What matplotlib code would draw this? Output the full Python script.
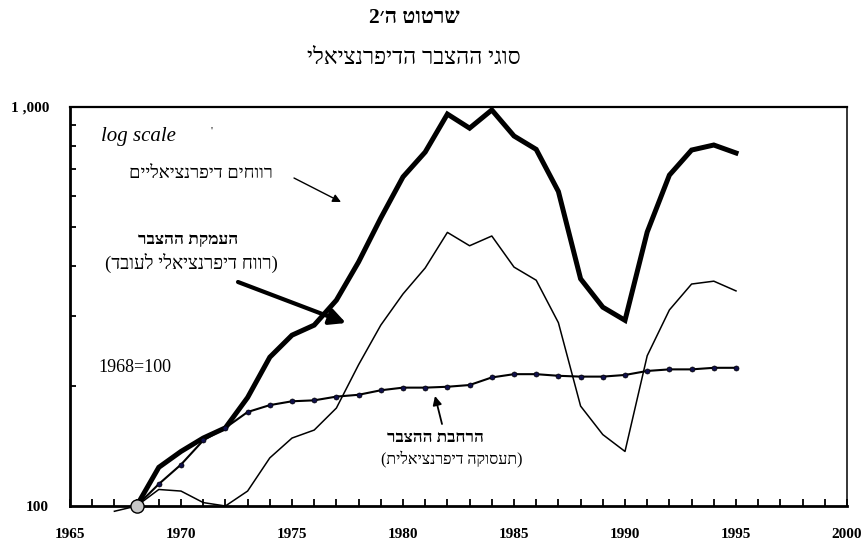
import matplotlib
matplotlib.use('Agg')
import matplotlib.pyplot as plt
from matplotlib.ticker import FixedLocator, NullFormatter, FixedFormatter

# ---------------- data ----------------
years = list(range(1968, 1996))
profits = [100, 125, 137, 148, 157, 187, 236, 268, 284, 328, 409, 527, 668, 771,
           960, 885, 983, 846, 783, 614, 371, 315, 292, 486, 675, 780, 803, 767]

deep_years = list(range(1967, 1996))
deepening = [97, 100, 110, 109, 102, 100, 109, 132, 148, 155, 176, 226, 284, 340,
             395, 485, 449, 475, 397, 368, 288, 178, 151, 137, 238, 310, 360, 366, 346]

expansion = [100, 113.5, 127, 146, 157, 172, 179, 183, 184, 188, 190, 195, 198, 198,
             199, 201, 210, 214, 214, 212, 211, 211, 213, 218, 220, 220, 222, 222]

x_major = [1965, 1970, 1975, 1980, 1985, 1990, 1995, 2000]
x_minor = list(range(1965, 2001))
y_major = [100, 1000]
y_major_labels = ["100", "1 ,000"]
y_minor = [200, 300, 400, 500, 600, 700, 800, 900]

title1 = "שרטוט ה׳2"
title2 = "סוגי ההצבר הדיפרנציאלי"
lbl_profits = "רווחים דיפרנציאליים"
lbl_deep1 = "העמקת ההצבר"
lbl_deep2 = "(רווח דיפרנציאלי לעובד)"
lbl_exp1 = "הרחבת ההצבר"
lbl_exp2 = "(תעסוקה דיפרנציאלית)"
lbl_log = "log scale"
lbl_base = "1968=100"

SERIF = ['Liberation Serif', 'DejaVu Sans']


def vis(s):
    """visual (left-to-right) order for a right-to-left string"""
    mirror = {'(': ')', ')': '('}
    return ''.join(mirror.get(c, c) for c in reversed(s))


# ---------------- layout ----------------
W, H = 863, 541
AX_L, AX_R, AX_T, AX_B = 70, 847, 107, 506

fig = plt.figure(figsize=(W / 100, H / 100), dpi=100)
ax = fig.add_axes([AX_L / W, 1 - AX_B / H, (AX_R - AX_L) / W, (AX_B - AX_T) / H])


def apos(px, py):
    return ((px - AX_L) / (AX_R - AX_L), (AX_B - py) / (AX_B - AX_T))


ax.set_yscale('log')
ax.set_xlim(1965, 2000)
ax.set_ylim(100, 1000)

# series
ax.plot(years, profits, color='black', lw=3.6, solid_joinstyle='miter', zorder=4)
ax.plot(deep_years, deepening, color='black', lw=1.1, zorder=3, clip_on=False)
ax.plot(years, expansion, color='black', lw=1.5, marker='o', ms=3.6,
        mfc='#10104a', mec='black', mew=0.5, zorder=5)
ax.plot(years[0], profits[0], 'o', ms=9.5, mfc='#c8c8c8', mec='black', mew=1,
        zorder=10, clip_on=False)

# axes styling
for side, lw in (('left', 2.0), ('bottom', 2.0), ('top', 1.6), ('right', 1.1)):
    ax.spines[side].set_linewidth(lw)
    ax.spines[side].set_color('black')

ax.xaxis.set_major_locator(FixedLocator(x_major))
ax.xaxis.set_minor_locator(FixedLocator(x_minor))
ax.xaxis.set_major_formatter(FixedFormatter([str(v) for v in x_major]))
ax.xaxis.set_minor_formatter(NullFormatter())
ax.yaxis.set_major_locator(FixedLocator(y_major))
ax.yaxis.set_major_formatter(FixedFormatter(y_major_labels))
ax.yaxis.set_minor_locator(FixedLocator(y_minor))
ax.yaxis.set_minor_formatter(NullFormatter())
ax.xaxis.set_ticks_position('bottom')
ax.yaxis.set_ticks_position('left')
ax.tick_params(axis='x', which='both', direction='in', length=5, width=1.3, pad=15.5)
ax.tick_params(axis='y', which='major', direction='in', length=0, pad=15)
ax.tick_params(axis='y', which='minor', direction='in', length=4, width=1.3)
for lab in ax.get_xticklabels() + ax.get_yticklabels():
    lab.set_family(SERIF)
    lab.set_fontweight('bold')
    lab.set_fontsize(11)

# titles
fig.text(414 / W, 1 - 18 / H, vis(title1), family=SERIF, fontweight='bold',
         fontsize=15.5, ha='center', va='center')
fig.text(414 / W, 1 - 58 / H, vis(title2), family=SERIF, fontsize=16.5,
         ha='center', va='center')

# annotations
def txt(px, py, s, **kw):
    ax.text(*apos(px, py), s, transform=ax.transAxes, family=SERIF,
            ha=kw.pop('ha', 'center'), va='center', **kw)


txt(101, 136, lbl_log, style='italic', fontsize=15, ha='left')
txt(212, 131, "'", fontsize=8)
txt(201, 173, vis(lbl_profits), fontsize=13.2)
txt(188, 240, vis(lbl_deep1), fontsize=12.5, fontweight='bold')
txt(191, 263, vis(lbl_deep2), fontsize=13.5)
txt(135, 367, lbl_base, fontsize=13)
txt(435, 438, vis(lbl_exp1), fontsize=12.3, fontweight='bold')
txt(452, 460, vis(lbl_exp2), fontsize=11.5)


def arrow(p_from, p_to, lw, ms):
    ax.annotate('', xy=apos(*p_to), xytext=apos(*p_from),
                xycoords='axes fraction', textcoords='axes fraction',
                arrowprops=dict(arrowstyle='-|>', lw=lw, color='black',
                                mutation_scale=ms, shrinkA=0, shrinkB=0))


arrow((294, 178), (341, 202), 1.0, 12)
arrow((238, 282), (346, 323), 3.0, 24)
arrow((442, 424), (435, 396), 1.3, 13)

fig.savefig('out.png', dpi=100)
